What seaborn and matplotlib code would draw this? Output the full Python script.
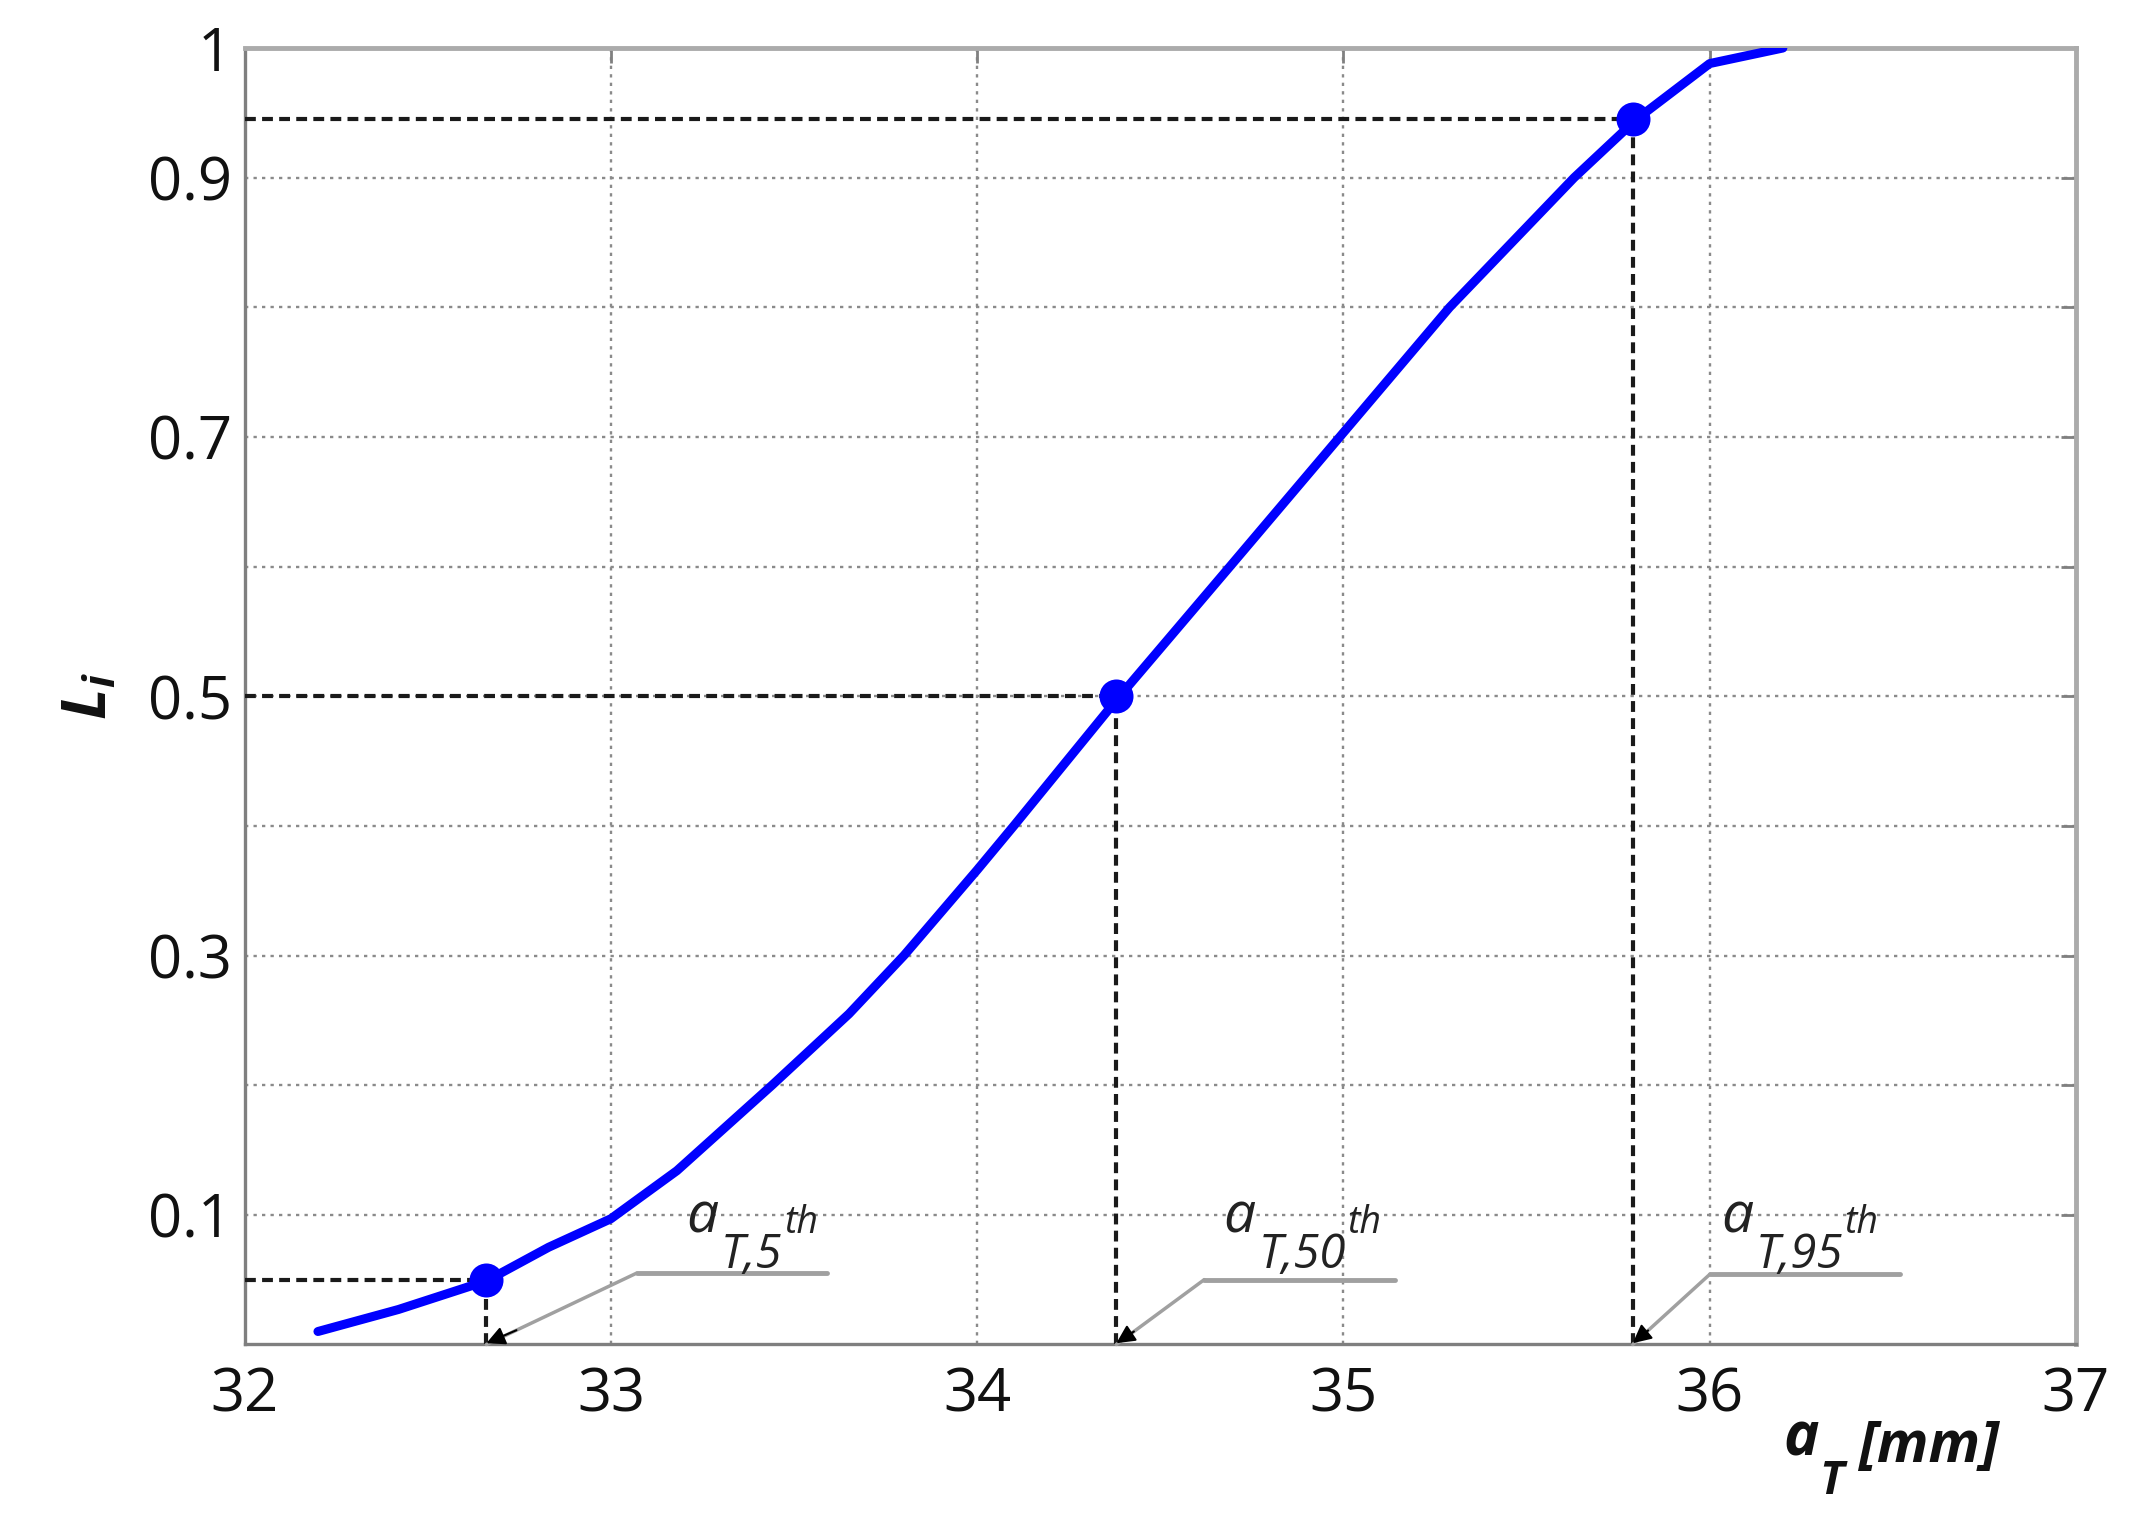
import matplotlib
matplotlib.use('Agg')
import matplotlib.pyplot as plt
import numpy as np
import pandas as pd
import seaborn as sns

# cumulative curve L_i versus a_T
a_T = [32.20, 32.42, 32.66, 32.83, 33.00, 33.18, 33.44, 33.65, 33.80, 34.00,
       34.10, 34.38, 34.69, 34.99, 35.29, 35.63, 35.80, 36.00, 36.20]
L_i = [0.010, 0.027, 0.049, 0.075, 0.097, 0.134, 0.200, 0.255, 0.300, 0.366,
       0.400, 0.497, 0.600, 0.700, 0.800, 0.900, 0.945, 0.988, 1.000]

# marked percentiles
pct_names = ['5', '50', '95']
pct_levels = [0.05, 0.50, 0.945]
pct_values = [32.66, 34.38, 35.79]

x_ticks = [32, 33, 34, 35, 36, 37]
y_ticks = [0.1, 0.2, 0.3, 0.4, 0.5, 0.6, 0.7, 0.8, 0.9, 1.0]
y_ticklabels = ['0.1', '', '0.3', '', '0.5', '', '0.7', '', '0.9', '1']

curve = pd.DataFrame({'a_T': a_T, 'L_i': L_i})
marks = pd.DataFrame({'a_T': pct_values, 'L_i': pct_levels})

sns.set_style('white')
plt.rcParams['font.family'] = ['Open Sans', 'DejaVu Sans']
plt.rcParams['mathtext.fontset'] = 'custom'
plt.rcParams['mathtext.rm'] = 'Open Sans'
plt.rcParams['mathtext.it'] = 'Open Sans:italic'
plt.rcParams['mathtext.bf'] = 'Open Sans:bold'
plt.rcParams['mathtext.bfit'] = 'Open Sans:italic:bold'
plt.rcParams['axes.axisbelow'] = True

fig = plt.figure(figsize=(21.37, 15.24), dpi=100)
ax = fig.add_axes([0.1145, 0.1178, 0.8569, 0.8507])

# grid
ax.grid(True, color='#8a8a8a', linestyle=(0, (1.4, 2.2)), linewidth=1.7)

# black dashed guide lines to the percentile points
dash = (0, (2.6, 1.5))
for q, p in zip(pct_values, pct_levels):
    ax.plot([x_ticks[0], q], [p, p], color='#1a1a1a', lw=3, linestyle=dash, zorder=3)
    ax.plot([q, q], [0, p], color='#1a1a1a', lw=3, linestyle=dash, zorder=3)

sns.lineplot(data=curve, x='a_T', y='L_i', ax=ax, color='#0000ff', lw=6.5,
             sort=False, estimator=None, zorder=4)
sns.scatterplot(data=marks, x='a_T', y='L_i', ax=ax, color='#0000ff', s=600,
                edgecolor='#0000ff', linewidth=0, zorder=5)

# percentile labels with bent leader lines
lead_dx = [0.41, 0.24, 0.21]
text_dx = [0.546, 0.293, 0.241]
lead_y = [0.055, 0.050, 0.054]
lead_len = 0.52
a_base = 0.086
txt_col = '#222222'
for q, name, ldx, tdx, ly in zip(pct_values, pct_names, lead_dx, text_dx, lead_y):
    ax.plot([q + ldx, q + ldx + lead_len], [ly, ly], color='#a0a0a0', lw=3.5, zorder=3)
    ax.annotate('', xy=(q, 0), xytext=(q + ldx, ly),
                arrowprops=dict(arrowstyle='-', color='#a0a0a0', lw=2.5,
                                shrinkA=0, shrinkB=0), zorder=3)
    ax.annotate('', xy=(q, 0.001), xytext=(q + 0.2 * ldx, 0.2 * ly),
                arrowprops=dict(arrowstyle='-|>', color='black', lw=1.5,
                                mutation_scale=28, shrinkA=0, shrinkB=0), zorder=4)
    ax.text(q + tdx, a_base, 'a', fontsize=41, style='italic', color=txt_col,
            ha='left', va='baseline', zorder=4)
    sub = ax.annotate('T,' + name, xy=(q + tdx, a_base), xytext=(25, -25),
                      textcoords='offset points', fontsize=34, style='italic',
                      color=txt_col, ha='left', va='baseline', zorder=4)
    ax.annotate('th', xy=(1, a_base), xycoords=(sub, 'data'), xytext=(1, 0),
                textcoords='offset points', fontsize=27, style='italic',
                color=txt_col, ha='left', va='baseline', zorder=4)

ax.set_xlim(32, 37)
ax.set_ylim(0, 1)
ax.set_xticks(x_ticks)
ax.set_xticklabels([str(t) for t in x_ticks])
ax.set_yticks(y_ticks)
ax.set_yticklabels(y_ticklabels)
ax.set_xlabel('')

ax.tick_params(axis='both', which='both', direction='in', length=11, width=2,
               color='#808080', labelsize=43, labelcolor='#111111',
               top=True, right=True)
ax.tick_params(axis='x', pad=15)
ax.tick_params(axis='y', pad=9)

for side in ['left', 'bottom']:
    ax.spines[side].set_color('#7f7f7f')
    ax.spines[side].set_linewidth(2.4)
for side in ['top', 'right']:
    ax.spines[side].set_color('#ababab')
    ax.spines[side].set_linewidth(3.5)

# x axis label a_T [mm]
lab_kw = dict(transform=ax.transAxes, style='italic', fontweight='bold',
              color='#111111', ha='left', va='baseline', clip_on=False)
ax.text(0.840, -0.0853, 'a', fontsize=43, **lab_kw)
ax.text(0.860, -0.1150, 'T', fontsize=33, **lab_kw)
ax.text(0.881, -0.0905, '[mm]', fontsize=41, **lab_kw)

ax.set_ylabel(r'$\mathbfit{L}_{\mathbfit{i}}$', fontsize=44, color='#111111')
ax.yaxis.set_label_coords(-0.068, 0.5)

fig.savefig('out.png', dpi=100)
